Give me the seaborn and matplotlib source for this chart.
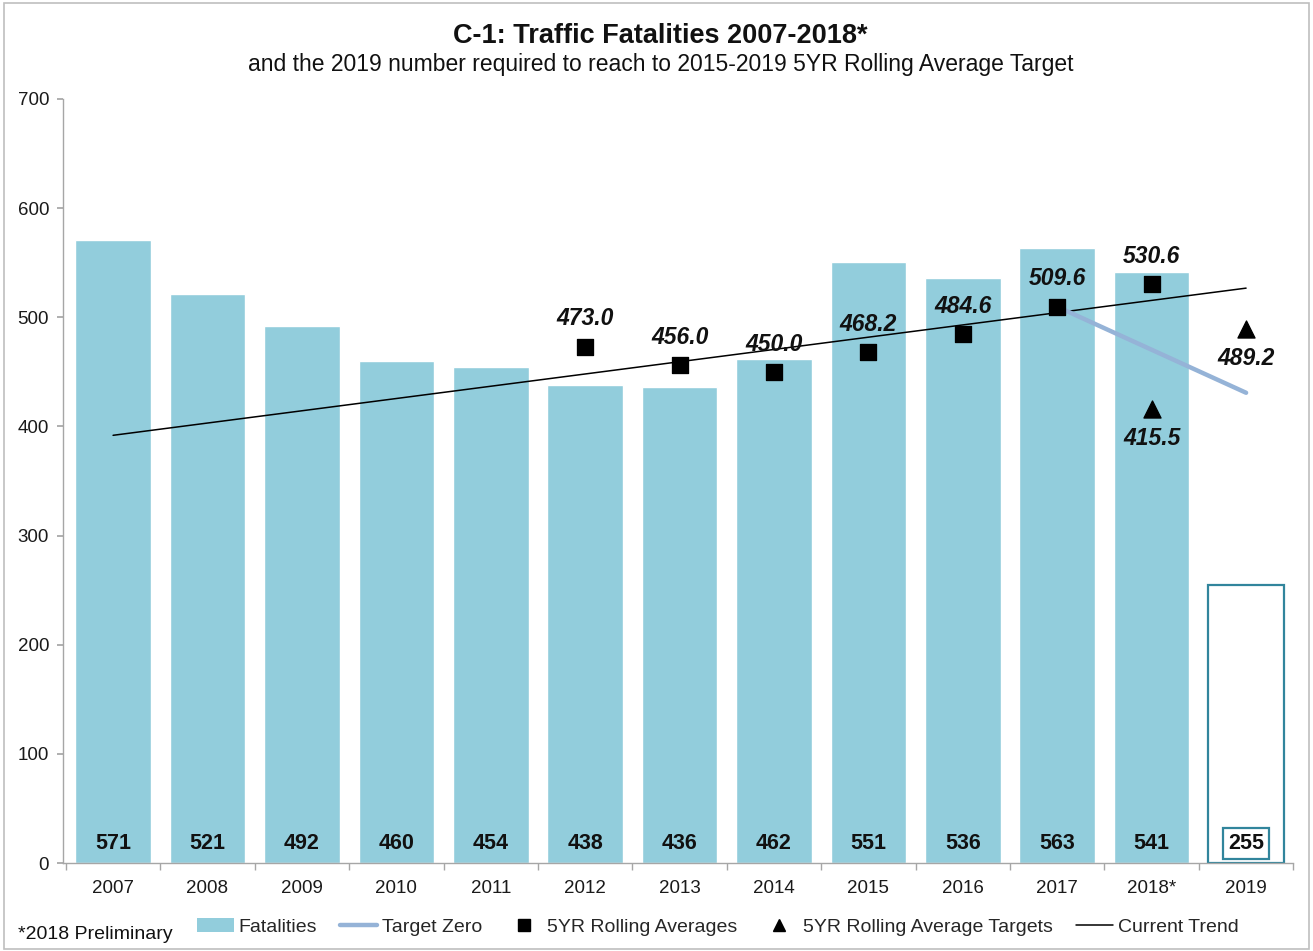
import numpy as np
import pandas as pd
import matplotlib
matplotlib.use("Agg")
import matplotlib.pyplot as plt
import seaborn as sns
from matplotlib.lines import Line2D
from matplotlib.patches import Patch, Rectangle

# ---- data ----
years = ["2007", "2008", "2009", "2010", "2011", "2012", "2013",
         "2014", "2015", "2016", "2017", "2018*", "2019"]
fatalities = [571, 521, 492, 460, 454, 438, 436, 462, 551, 536, 563, 541]
required_2019 = [255]
avg_years = ["2012", "2013", "2014", "2015", "2016", "2017", "2018*"]
rolling_avg = [473.0, 456.0, 450.0, 468.2, 484.6, 509.6, 530.6]
target_years = ["2018*", "2019"]
avg_targets = [415.5, 489.2]
zero_years = ["2017", "2019"]
target_zero = [509.6, 430.8]

BAR = "#92CDDC"
EDGE = "#31859C"
ZERO = "#95B3D7"
GRAY = "#A6A6A6"

sns.set_theme(style="white")
plt.rcParams["font.family"] = ["Liberation Sans", "DejaVu Sans"]

fig = plt.figure(figsize=(13.13, 9.51), dpi=100)
ax = fig.add_axes([0.048, 0.0925, 0.937, 0.8035])

pos = {y: i for i, y in enumerate(years)}

# bars
df_f = pd.DataFrame({"year": years[:len(fatalities)], "val": fatalities})
sns.barplot(data=df_f, x="year", y="val", order=years, color=BAR,
            saturation=1, width=0.8, ax=ax)
df_r = pd.DataFrame({"year": ["2019"], "val": required_2019})
sns.barplot(data=df_r, x="year", y="val", order=years, color="white",
            saturation=1, width=0.8, edgecolor=EDGE, linewidth=1.6, ax=ax)

# trend line (linear fit of the rolling averages, extended over all years)
xa = np.array([pos[y] for y in avg_years])
coef = np.polyfit(xa, rolling_avg, 1)
xt = np.array([0, len(years) - 1])
sns.lineplot(x=xt, y=np.polyval(coef, xt), color="black", linewidth=1.1, ax=ax)

# target zero
sns.lineplot(x=[pos[y] for y in zero_years], y=target_zero, color=ZERO,
             linewidth=3.2, ax=ax)

# rolling averages
sns.scatterplot(x=xa, y=rolling_avg, marker="s", s=140, color="black",
                edgecolor="black", ax=ax, zorder=5)
xtg = [pos[y] for y in target_years]
sns.scatterplot(x=xtg, y=avg_targets, marker="^", s=150, color="black",
                edgecolor="black", ax=ax, zorder=5)

for x, v in zip(xa, rolling_avg):
    ax.annotate(f"{v:.1f}", (x, v), xytext=(0, 20), textcoords="offset points",
                ha="center", va="center", fontsize=16.5, fontweight="bold",
                fontstyle="italic", color="#111111")
for x, v in zip(xtg, avg_targets):
    ax.annotate(f"{v:.1f}", (x, v), xytext=(0, -21), textcoords="offset points",
                ha="center", va="center", fontsize=16.5, fontweight="bold",
                fontstyle="italic", color="#111111")

# bar value labels
for i, v in enumerate(fatalities):
    ax.text(i, 18, f"{v}", ha="center", va="center", fontsize=15.5,
            fontweight="bold", color="#111111")
ax.text(pos["2019"], 18, f"{required_2019[0]}", ha="center", va="center",
        fontsize=15.5, fontweight="bold", color="#111111",
        bbox=dict(boxstyle="square,pad=0.25", facecolor="white",
                  edgecolor=EDGE, linewidth=1.6))

# axes styling
ax.set_xlim(-0.53, len(years) - 0.5)
ax.set_ylim(0, 700)
ax.set_yticks(range(0, 701, 100))
ax.set_xlabel("")
ax.set_ylabel("")
for s in ["top", "right"]:
    ax.spines[s].set_visible(False)
for s in ["left", "bottom"]:
    ax.spines[s].set_color(GRAY)
    ax.spines[s].set_linewidth(1.0)
ax.set_xticks(range(len(years)))
ax.set_xticklabels(years)
ax.set_xticks(np.arange(-0.5, len(years), 1.0), minor=True)
ax.tick_params(axis="x", which="major", length=0, pad=12, labelsize=13.5,
               labelcolor="#1a1a1a")
ax.tick_params(axis="x", which="minor", length=5, color=GRAY, direction="out",
               bottom=True)
ax.tick_params(axis="y", length=4, color=GRAY, direction="out", left=True,
               labelsize=13.5, labelcolor="#1a1a1a", pad=6)
ax.grid(False)

# titles
fig.text(0.503, 0.962, "C-1: Traffic Fatalities 2007-2018*", ha="center",
         va="center", fontsize=19.5, fontweight="bold", color="#111111")
fig.text(0.503, 0.932,
         "and the 2019 number required to reach to 2015-2019 5YR Rolling Average Target",
         ha="center", va="center", fontsize=16.5, color="#111111")

# legend
handles = [
    Patch(facecolor=BAR, edgecolor="none"),
    Line2D([0], [0], color=ZERO, lw=3.2),
    Line2D([0], [0], marker="s", color="black", lw=0, markersize=9),
    Line2D([0], [0], marker="^", color="black", lw=0, markersize=9),
    Line2D([0], [0], color="black", lw=1.1),
]
labels = ["Fatalities", "Target Zero", "5YR Rolling Averages",
          "5YR Rolling Average Targets", "Current Trend"]
fig.legend(handles, labels, loc="center", bbox_to_anchor=(0.5465, 0.025),
           ncol=5, frameon=False, fontsize=14, handlelength=1.9,
           handletextpad=0.25, columnspacing=1.2, handleheight=0.7)
fig.text(0.014, 0.017, "*2018 Preliminary", ha="left", va="center",
         fontsize=14, color="#111111")

# figure border
fig.patches.append(Rectangle((0.003, 0.002), 0.994, 0.995, transform=fig.transFigure,
                             fill=False, edgecolor="#BFBFBF", linewidth=1.2))

fig.savefig("out.png", dpi=100)
